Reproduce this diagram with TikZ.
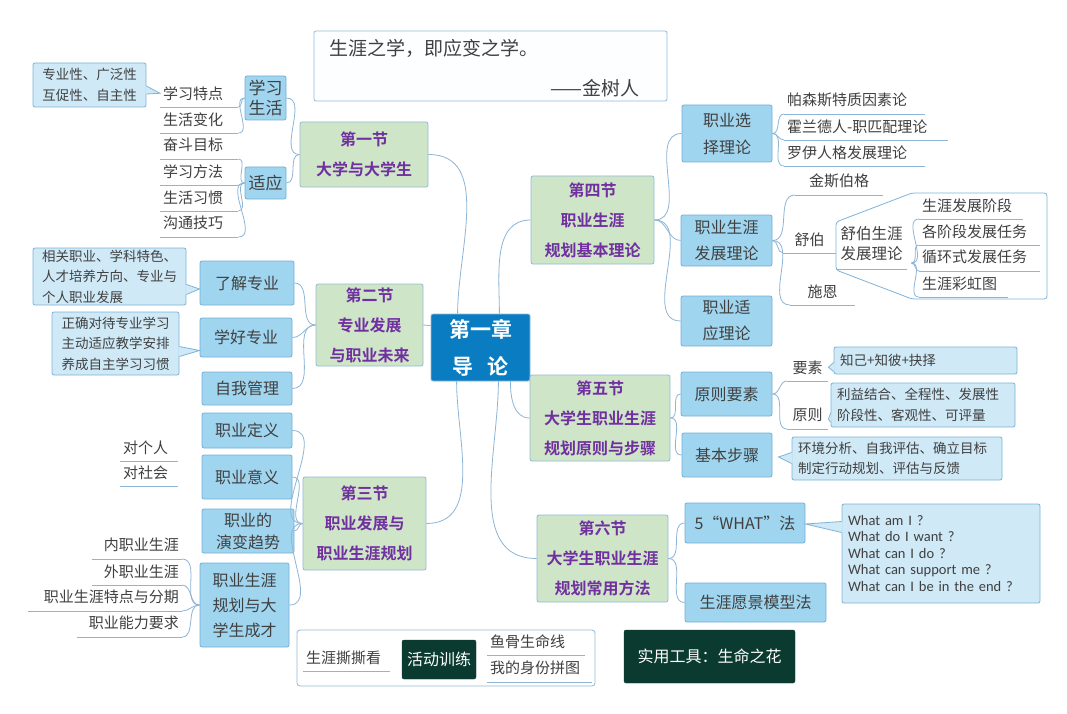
\documentclass[tikz,border=0pt]{standalone}
\usepackage{fontspec}
\setmainfont{Noto Sans CJK SC}[BoldFont={Noto Sans CJK SC Bold}]
\newfontfamily\enfont{Carlito}
\usetikzlibrary{calc}
\definecolor{txt}{HTML}{404040}
\definecolor{boxfill}{HTML}{A0D5EF}
\definecolor{boxdraw}{HTML}{74B0D8}
\definecolor{callfill}{HTML}{CFE9F7}
\definecolor{calldraw}{HTML}{7DB3D8}
\definecolor{secfill}{HTML}{CFE5C8}
\definecolor{secdraw}{HTML}{93BAD6}
\definecolor{purp}{HTML}{7030A0}
\definecolor{cenfill}{HTML}{0A7DC2}
\definecolor{darkg}{HTML}{0B3B30}
\definecolor{linec}{HTML}{8DB5D7}
\newcommand\myfs[2]{\fontsize{#1}{#2}\selectfont}
\tikzset{
  bx/.style 2 args={minimum width=#1, minimum height=#2},
  child/.style={draw=boxdraw, fill=boxfill, rounded corners=2, text=txt, font=\myfs{16}{25}, align=center, inner sep=0, line width=0.8},
  sec/.style={draw=secdraw, fill=secfill, rounded corners=2, text=purp, font=\bfseries\myfs{16}{30}, align=center, inner sep=0, line width=0.8},
  call/.style={draw=calldraw, fill=callfill, rounded corners=2, text=txt, font=\myfs{13.5}{20.5}, align=left, inner xsep=6, inner ysep=0, line width=0.8},
  uline/.style={draw=linec, line width=0.8},
  conn/.style={draw=linec, line width=0.8},
  tp/.style={text=txt, font=\myfs{15}{18}, inner xsep=3, inner ysep=0, minimum height=27, append after command={(\tikzlastnode.south west) edge[uline] (\tikzlastnode.south east)}},
  tpl/.style={tp, text width=#1, align=left},
  tpr/.style={tp, text width=#1, align=right},
  tpc/.style={tp, text width=#1, align=center},
  ptrfill/.style={fill=callfill},
  ptrdraw/.style={draw=calldraw, line width=0.8},
}
\begin{document}
\begin{tikzpicture}[x=1pt,y=-1pt]
\fill[white] (0,0) rectangle (1067,714);
\useasboundingbox (0,0) rectangle (1067,714);

% quote
\node[draw=secdraw, fill=white!96!callfill, rounded corners=2, bx={353}{70}, inner sep=0, line width=0.8] (quote) at (490.5,66) {};
\node[anchor=west, font=\myfs{19}{22}, text=txt, inner sep=0] (q1) at (329,48) {生涯之学，即应变之学。};
\node[anchor=east, font=\myfs{19}{22}, text=txt, inner sep=0] (q2) at (640,88) {——金树人};

% central
\node[fill=cenfill, draw=secdraw, rounded corners=2, text=white, font=\bfseries\myfs{21}{37}, align=center, bx={99}{67}, inner sep=0, line width=0.8] (c) at (480.5,347.5) {第一章\\导\hspace{0.7em}论};

% sections
\node[sec, bx={128}{65}] (s1) at (364,154.5) {第一节\\大学与大学生};
\node[sec, bx={107}{82}] (s2) at (369.5,325) {第二节\\专业发展\\与职业未来};
\node[sec, bx={123}{93}] (s3) at (364.5,523.5) {第三节\\职业发展与\\职业生涯规划};
\node[sec, bx={123}{88}] (s4) at (592.5,220) {第四节\\职业生涯\\规划基本理论};
\node[sec, bx={140}{86}] (s5) at (600,418) {第五节\\大学生职业生涯\\规划原则与步骤};
\node[sec, bx={131}{87}] (s6) at (602.5,558.5) {第六节\\大学生职业生涯\\规划常用方法};

% children
\node[child, bx={41}{44}, font=\myfs{17}{20}] (xxsh) at (265.5,98) {学习\\生活};
\node[child, bx={41}{32}, font=\myfs{17}{20}] (sy) at (265.5,183) {适应};
\node[child, bx={94}{44}] (ljzy) at (247,283) {了解专业};
\node[child, bx={92}{39}] (xhzy) at (246,337.5) {学好专业};
\node[child, bx={90}{33}] (zwgl) at (247,388.5) {自我管理};
\node[child, bx={90}{35}] (zydy) at (247,430.5) {职业定义};
\node[child, bx={90}{44}] (zyyy) at (247,477) {职业意义};
\node[child, bx={92}{44}, font=\myfs{16}{22}] (ybqs) at (248,531) {职业的\\演变趋势};
\node[child, bx={89}{84}, font=\myfs{16}{25}] (zysy) at (244.5,605) {职业生涯\\规划与大\\学生成才};
\node[child, bx={90}{57}, font=\myfs{16}{27}] (zyxz) at (727,133.5) {职业选\\择理论};
\node[child, bx={91}{51}, font=\myfs{16}{26}] (zyfz) at (726.5,240.5) {职业生涯\\发展理论};
\node[child, bx={91}{50}, font=\myfs{16}{26}] (zysh) at (726.5,321) {职业适\\应理论};
\node[child, bx={91}{44}] (yzys) at (726.5,394) {原则要素};
\node[child, bx={90}{44}] (jbbz) at (727,455) {基本步骤};
\node[child, bx={120}{40}] (what) at (745,523) {5“WHAT”法};
\node[child, bx={141}{39}] (yjmx) at (755.5,602.5) {生涯愿景模型法};

% section 1 topics
\node[tpl=72pt, anchor=south west] (xxtd) at (160,107) {学习特点};
\node[tpl=72pt, anchor=south west] (shbh) at (160,133) {生活变化};
\node[tpl=72pt, anchor=south west] (fdmb) at (160,159) {奋斗目标};
\node[tpl=72pt, anchor=south west] (xxff) at (160,185) {学习方法};
\node[tpl=72pt, anchor=south west] (shxg) at (160,211) {生活习惯};
\node[tpl=72pt, anchor=south west] (gtjq) at (160,237) {沟通技巧};

% section 3 topics
\node[tpl=52pt, anchor=south west] (dgr) at (120,461) {对个人};
\node[tpl=52pt, anchor=south west] (dsh) at (120,486) {对社会};
\node[tpr=84pt, anchor=south east] (nzysy) at (182,559) {内职业生涯};
\node[tpr=84pt, anchor=south east] (wzysy) at (182,585) {外职业生涯};
\node[tpr=148pt, anchor=south east] (tdfq) at (182,611) {职业生涯特点与分期};
\node[tpr=99pt, anchor=south east] (nlyq) at (182,637) {职业能力要求};

% section 4 topics
\node[tpl=135pt, anchor=south west] (psz) at (784,114) {帕森斯特质因素论};
\node[tpl=158pt, anchor=south west] (hld) at (784,140) {霍兰德人-职匹配理论};
\node[tpl=135pt, anchor=south west] (ly) at (784,166) {罗伊人格发展理论};
\node[tpc=82pt, anchor=south west] (jsbg) at (795,195) {金斯伯格};
\node[tpc=47pt, anchor=south west] (sb) at (783,253) {舒伯};
\node[tpc=59pt, anchor=south west] (se) at (790,305) {施恩};
\draw[draw=calldraw, line width=0.8, rounded corners=3] (836,222) -- (912,193) -- (1047,193) -- (1047,299) -- (912,299) -- (836,270) -- cycle;
\node[tp, text width=65pt, align=center, font=\myfs{15.5}{20}, minimum height=50, anchor=south west] (sblz) at (836,269) {舒伯生涯\\发展理论};
\node[tpl=98pt, anchor=south west] (syfz) at (919,219) {生涯发展阶段};
\node[tpl=115pt, anchor=south west] (gjd) at (919,245) {各阶段发展任务};
\node[tpl=115pt, anchor=south west] (xhs) at (919,271) {循环式发展任务};
\node[tpl=83pt, anchor=south west] (chtu) at (919,297) {生涯彩虹图};

% section 5 topics
\node[tpc=35pt, anchor=south west] (ys) at (787,381) {要素};
\node[tpc=35pt, anchor=south west] (yz) at (787,429) {原则};

% callouts
\node[call, bx={113}{44}] (c1) at (89.5,85) {专业性、广泛性\\互促性、自主性};
\node[call, bx={153}{57}] (c2) at (109.5,276.5) {相关职业、学科特色、\\人才培养方向、专业与\\个人职业发展};
\node[call, bx={127}{63}] (c3) at (115.5,343.5) {正确对待专业学习\\主动适应教学安排\\养成自主学习习惯};
\node[call, bx={183}{27}, text width=171pt] (c4) at (925.5,360.5) {知己+知彼+抉择};
\node[call, bx={184}{44}, text width=172pt] (c5) at (923,405) {利益结合、全程性、发展性\\阶段性、客观性、可评量};
\node[call, bx={210}{43}, text width=198pt] (c6) at (897,458.5) {环境分析、自我评估、确立目标\\制定行动规划、评估与反馈};
\node[call, bx={198}{99}, text width=186pt, font=\enfont\myfs{14.5}{16.5}] (c7) at (941,553.5) {What am I ?\\What do I want ?\\What can I do ?\\What can support me ?\\What can I be in the end ?};

% callout pointers
\fill[ptrfill] ($(c1.east)+(-1,1)$) -- (xxtd.west) -- ($(c1.east)+(-1,9)$) -- cycle;
\draw[ptrdraw] ($(c1.east)+(0,1)$) -- (xxtd.west) -- ($(c1.east)+(0,9)$);
\fill[ptrfill] ($(c2.east)+(-1,8)$) -- ($(ljzy.west)+(0,6)$) -- ($(c2.east)+(-1,18)$) -- cycle;
\draw[ptrdraw] ($(c2.east)+(0,8)$) -- ($(ljzy.west)+(0,6)$) -- ($(c2.east)+(0,18)$);
\fill[ptrfill] ($(c3.east)+(-1,3)$) -- ($(xhzy.west)+(0,13)$) -- ($(c3.east)+(-1,13)$) -- cycle;
\draw[ptrdraw] ($(c3.east)+(0,3)$) -- ($(xhzy.west)+(0,13)$) -- ($(c3.east)+(0,13)$);
\fill[ptrfill] ($(c4.west)+(1,2)$) -- (ys.east) -- ($(c4.west)+(1,11)$) -- cycle;
\draw[ptrdraw] ($(c4.west)+(0,2)$) -- (ys.east) -- ($(c4.west)+(0,11)$);
\fill[ptrfill] ($(c5.west)+(1,8)$) -- ($(yz.east)+(0,4)$) -- ($(c5.west)+(1,17)$) -- cycle;
\draw[ptrdraw] ($(c5.west)+(0,8)$) -- ($(yz.east)+(0,4)$) -- ($(c5.west)+(0,17)$);
\fill[ptrfill] ($(c6.west)+(1,-6)$) -- ($(jbbz.east)+(6,2)$) -- ($(c6.west)+(1,5)$) -- cycle;
\draw[ptrdraw] ($(c6.west)+(0,-6)$) -- ($(jbbz.east)+(6,2)$) -- ($(c6.west)+(0,5)$);
\fill[ptrfill] ($(c7.west)+(1,-32)$) -- ($(what.east)+(0,1)$) -- ($(c7.west)+(1,-21)$) -- cycle;
\draw[ptrdraw] ($(c7.west)+(0,-32)$) -- ($(what.east)+(0,1)$) -- ($(c7.west)+(0,-21)$);

% bottom boxes
\node[draw=secdraw, fill=white, rounded corners=3, bx={298}{56}, inner sep=0, line width=0.8] (act) at (446,658) {};
\node[fill=darkg, draw=darkg, text=white, rounded corners=2, font=\myfs{16}{20}, bx={74}{39}, inner sep=0] (hdxl) at (439,659.5) {活动训练};
\node[tpl=81pt, anchor=south west] (sszk) at (303,671) {生涯撕撕看};
\node[tpl=92pt, anchor=south west] (ygsmx) at (487,655) {鱼骨生命线};
\node[tpl=99pt, anchor=south west] (wdsf) at (487,682) {我的身份拼图};
\node[fill=darkg, draw=darkg, text=white, rounded corners=2, font=\myfs{16}{20}, bx={171}{53}, inner sep=0] (syg) at (709.5,656.5) {实用工具：生命之花};

% central connectors
\draw[conn] ($(c.north west)+(27,0)$) to[out=90,in=0] (s1.east);
\draw[conn] ($(c.north west)+(0,12)$) -- (s2.east);
\draw[conn] ($(c.south west)+(26,0)$) to[out=-90,in=0] (s3.east);
\draw[conn] ($(c.north east)+(-31,0)$) to[out=90,in=180] (s4.west);
\draw[conn] ($(c.south east)+(-20,0)$) to[out=-90,in=180] (s5.west);
\draw[conn] ($(c.south east)+(-32,0)$) to[out=-90,in=180] (s6.west);

% section 1
\foreach \t in {xxsh,sy} \draw[conn] (s1.west) to[out=180,in=0] (\t.east);
\foreach \t in {xxtd,shbh} \draw[conn] (xxsh.west) to[out=180,in=0] (\t.south east);
\foreach \t in {fdmb,xxff,shxg,gtjq} \draw[conn] (sy.west) to[out=180,in=0] (\t.south east);
% section 2
\foreach \t in {ljzy,xhzy,zwgl} \draw[conn] (s2.west) to[out=180,in=0] (\t.east);
% section 3
\foreach \t in {zydy,zyyy,ybqs,zysy} \draw[conn] (s3.west) to[out=180,in=0] (\t.east);
\foreach \t in {nzysy,wzysy,tdfq,nlyq} \draw[conn] (zysy.west) to[out=180,in=0] (\t.south east);
% section 4
\foreach \t in {zyxz,zyfz,zysh} \draw[conn] (s4.east) to[out=0,in=180] (\t.west);
\foreach \t in {psz,hld,ly} \draw[conn] (zyxz.east) to[out=0,in=180] (\t.south west);
\foreach \t in {jsbg,sb,se} \draw[conn] (zyfz.east) to[out=0,in=180] (\t.south west);
\foreach \t in {syfz,gjd,xhs,chtu} \draw[conn] ($(sblz.south east)+(4,-6)$) to[out=0,in=180] (\t.south west);
% section 5
\foreach \t in {yzys,jbbz} \draw[conn] (s5.east) to[out=0,in=180] (\t.west);
\foreach \t in {ys,yz} \draw[conn] (yzys.east) to[out=0,in=180] (\t.south west);
% section 6
\foreach \t in {what,yjmx} \draw[conn] (s6.east) to[out=0,in=180] (\t.west);
\end{tikzpicture}
\end{document}
